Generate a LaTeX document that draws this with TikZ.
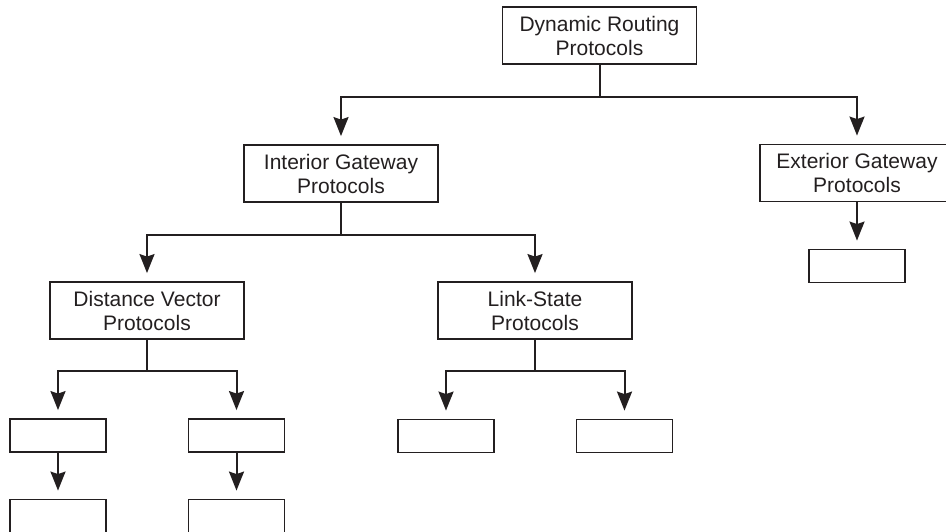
\documentclass[tikz,border=0pt]{standalone}
\usepackage{fontspec}
\setmainfont{Liberation Sans}
\usetikzlibrary{arrows.meta}
\definecolor{inkc}{HTML}{231F20}
\begin{document}
\begin{tikzpicture}[x=1pt,y=-1pt,
  ink/.style={draw=inkc, line width=2pt},
  bigbox/.style={ink, line width=1.8pt, minimum width=194pt, minimum height=57pt, align=center,
    font=\fontsize{21}{24}\selectfont, text=inkc, inner sep=0pt},
  leaf/.style={ink, line width=1.8pt, minimum width=96pt, minimum height=33pt, inner sep=0pt},
  stem/.style={ink},
  branch/.style={ink, -{Stealth[length=19pt,width=15pt,inset=2.5pt]}, shorten >=8pt}]
\useasboundingbox (0,0) rectangle (946,532);

% main classification boxes
\node[bigbox] (drp) at (599.5,35.5) {Dynamic Routing\\Protocols};
\node[bigbox] (igp) at (341,173.5) {Interior Gateway\\Protocols};
\node[bigbox] (egp) at (857,173) {Exterior Gateway\\Protocols};
\node[bigbox] (dvp) at (147,310.5) {Distance Vector\\Protocols};
\node[bigbox] (lsp) at (535,310.5) {Link-State\\Protocols};

% empty leaf boxes
\node[leaf] (dv1) at (58,435.5) {};
\node[leaf] (dv2) at (236.5,435.5) {};
\node[leaf] (dv3) at (58,516) {};
\node[leaf] (dv4) at (236.5,516) {};
\node[leaf] (ls1) at (446,436) {};
\node[leaf] (ls2) at (624.5,436) {};
\node[leaf] (ex1) at (857,266) {};

% junction points
\coordinate (jtop) at (599.5,97);
\coordinate (jigp) at (341,235);
\coordinate (jdv) at (147,371);
\coordinate (jls) at (535,371);

% top level
\draw[stem] (drp.south) -- (jtop);
\draw[branch] (jtop) -| (igp.north);
\draw[branch] (jtop) -| (egp.north);
\draw[branch] (egp.south) -- (ex1.north);

% interior gateway protocols
\draw[stem] (igp.south) -- (jigp);
\draw[branch] (jigp) -| (dvp.north);
\draw[branch] (jigp) -| (lsp.north);

% distance vector branch
\draw[stem] (dvp.south) -- (jdv);
\draw[branch] (jdv) -| (dv1.north);
\draw[branch] (jdv) -| (dv2.north);
\draw[branch] (dv1.south) -- (dv3.north);
\draw[branch] (dv2.south) -- (dv4.north);

% link-state branch
\draw[stem] (lsp.south) -- (jls);
\draw[branch] (jls) -| (ls1.north);
\draw[branch] (jls) -| (ls2.north);
\end{tikzpicture}
\end{document}
